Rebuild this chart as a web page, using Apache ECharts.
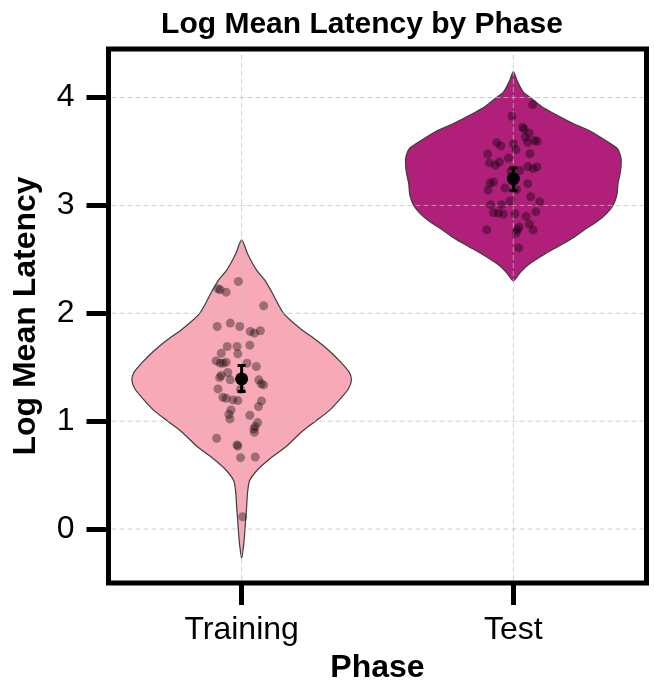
<!DOCTYPE html>
<html><head><meta charset="utf-8">
<script src="https://cdn.jsdelivr.net/npm/echarts@6/dist/echarts.min.js"></script>
<style>html,body{margin:0;padding:0;background:#fff}#c{width:654px;height:685px}</style>
</head><body><div id="c"></div>
<script>
// ---------- data ----------
const categories = ['Training', 'Test'];
const yTicks = [0, 1, 2, 3, 4];

const trainValues = [2.295, 2.227, 2.218, 2.196, 2.070, 1.878, 1.909, 1.878, 1.831, 1.816, 1.838,
  1.692, 1.692, 1.705, 1.630, 1.624, 1.559, 1.538, 1.547, 1.538, 1.538, 1.506, 1.451, 1.423, 1.404,
  1.383, 1.383, 1.346, 1.336, 1.299, 1.296, 1.222, 1.213, 1.197, 1.191, 1.188, 1.135, 1.104, 1.064,
  1.021, 1.055, 0.987, 0.950, 0.928, 0.897, 0.842, 0.780, 0.770, 0.662, 0.668, 0.114];
const trainJitter = [-0.012, -0.087, -0.079, -0.057, 0.081, -0.090, -0.042, -0.007, 0.032, 0.047, 0.069,
  -0.053, -0.017, 0.030, -0.075, -0.014, -0.094, -0.079, -0.057, -0.068, 0.020, 0.054, -0.051, -0.075, -0.081,
  -0.042, 0.063, 0.072, 0.081, -0.087, -0.004, -0.069, -0.057, -0.032, -0.014, 0.073, 0.062, -0.039, -0.047,
  -0.043, 0.030, 0.059, 0.050, 0.045, 0.047, -0.092, -0.017, -0.014, -0.004, 0.050, 0.004];

const testValues = [3.935, 3.827, 3.725, 3.709, 3.669, 3.632, 3.585, 3.601, 3.595, 3.582, 3.551,
  3.570, 3.517, 3.480, 3.477, 3.440, 3.394, 3.403, 3.372, 3.360, 3.341, 3.357, 3.323, 3.316, 3.217,
  3.208, 3.202, 3.143, 3.162, 3.146, 3.081, 3.035, 3.041, 3.007, 3.007, 2.933, 2.930, 2.920, 2.923,
  2.942, 2.899, 2.828, 2.800, 2.775, 2.744, 2.775, 2.772, 2.606];
const testJitter = [0.071, -0.005, 0.034, 0.039, 0.058, 0.044, 0.053, 0.078, 0.088, -0.061, -0.046,
  0.000, 0.010, 0.061, -0.095, -0.018, -0.088, -0.051, -0.066, 0.053, 0.073, 0.087, 0.024, -0.009, -0.073,
  -0.086, 0.053, -0.093, -0.031, 0.012, 0.064, 0.097, -0.012, -0.084, -0.043, -0.073, -0.055, -0.037, 0.006,
  0.083, 0.047, 0.059, 0.021, 0.015, 0.010, -0.098, 0.073, 0.020];

const means = [1.392, 3.248];
const ciLow = [1.275, 3.137];
const ciHigh = [1.516, 3.348];

// violin outlines: value levels and relative density (1 = widest)
const trainViolinY = [2.68, 2.55, 2.4, 2.31, 2.2, 2.0, 1.85, 1.75, 1.65, 1.54, 1.45, 1.38, 1.3, 1.23,
  1.1, 1.0, 0.9, 0.76, 0.65, 0.55, 0.45, 0.35, 0.2, 0.08, -0.05, -0.15, -0.27];
const trainViolinDensity = [0, 0.055, 0.136, 0.209, 0.273, 0.382, 0.545, 0.682, 0.8, 0.909, 0.982, 1, 0.973, 0.918,
  0.8, 0.673, 0.545, 0.4, 0.255, 0.145, 0.073, 0.055, 0.045, 0.036, 0.027, 0.018, 0];
const testViolinY = [4.24, 4.15, 4.05, 4.0, 3.92, 3.84, 3.76, 3.69, 3.6, 3.53, 3.44, 3.35, 3.29, 3.2,
  3.1, 3.0, 2.92, 2.85, 2.78, 2.70, 2.62, 2.54, 2.45, 2.38, 2.30];
const testViolinDensity = [0, 0.037, 0.093, 0.157, 0.259, 0.398, 0.556, 0.713, 0.861, 0.963, 1, 1, 0.991, 0.972,
  0.963, 0.926, 0.861, 0.778, 0.667, 0.556, 0.417, 0.278, 0.139, 0.065, 0];

// ---------- style ----------
const FONT = 'Liberation Sans, Arial, sans-serif';
const violinColors = ['#F8A9B7', '#B0207A'];
const violinHalfWidth = [0.404, 0.396];
const X_MIN = -0.49, X_MAX = 1.49;

const profiles = [
  { y: trainViolinY, d: trainViolinDensity },
  { y: testViolinY, d: testViolinDensity }
];

const chart = echarts.init(document.getElementById('c'), null, { renderer: 'canvas' });

const pointData = [];
trainValues.forEach((v, k) => pointData.push([0 + trainJitter[k], v]));
testValues.forEach((v, k) => pointData.push([1 + testJitter[k], v]));

const option = {
  backgroundColor: '#fff',
  animation: false,
  title: {
    text: 'Log Mean Latency by Phase',
    left: 357, top: 5, textAlign: 'center',
    textStyle: { fontFamily: FONT, fontWeight: 'bold', fontSize: 30, color: '#000' }
  },
  grid: {
    left: 108.5, right: 7.5, top: 49, bottom: 102,
    outerBoundsMode: 'none', containLabel: false,
    show: true, borderColor: '#000', borderWidth: 5, backgroundColor: '#fff'
  },
  xAxis: {
    type: 'value', min: X_MIN, max: X_MAX,
    axisLine: { show: false, onZero: false },
    axisTick: { show: true, customValues: [0, 1], length: 22, lineStyle: { color: '#000', width: 5 } },
    axisLabel: { customValues: [0, 1], formatter: v => categories[Math.round(v)], fontSize: 32,
      color: '#000', margin: 31, fontFamily: FONT },
    splitLine: { show: false },
    name: 'Phase', nameLocation: 'middle', nameGap: 69,
    nameTextStyle: { fontFamily: FONT, fontWeight: 'bold', fontSize: 32, color: '#000' }
  },
  yAxis: {
    type: 'value', min: -0.5, max: 4.45,
    axisLine: { show: false, onZero: false },
    axisTick: { show: true, customValues: yTicks, length: 22, lineStyle: { color: '#000', width: 5 } },
    axisLabel: { customValues: yTicks, fontSize: 32, color: '#000', margin: 34, fontFamily: FONT },
    splitLine: { show: false },
    name: 'Log Mean Latency', nameLocation: 'middle', nameRotate: 90, nameGap: 66,
    nameTextStyle: { fontFamily: FONT, fontWeight: 'bold', fontSize: 32, color: '#000' }
  },
  series: [
    {
      type: 'custom', name: 'violin', z: 2,
      data: [[0, -0.27, 2.68], [1, 2.30, 4.24]],
      encode: { x: 0, y: [1, 2] },
      renderItem: function (params, api) {
        const i = params.dataIndex;
        const p = profiles[i];
        const hw = violinHalfWidth[i];
        const right = p.y.map((v, k) => api.coord([i + p.d[k] * hw, v]));
        const left = p.y.map((v, k) => api.coord([i - p.d[k] * hw, v])).reverse();
        return {
          type: 'polygon',
          shape: { points: right.concat(left.slice(1, -1)), smooth: 0.25 },
          style: { fill: violinColors[i], stroke: '#3d3d3d', lineWidth: 1.2 }
        };
      }
    },
    {
      type: 'custom', name: 'hgrid', z: 3, silent: true,
      data: yTicks.map(v => [X_MIN, v]),
      encode: { x: 0, y: 1 },
      renderItem: function (params, api) {
        const v = api.value(1);
        const a = api.coord([X_MIN, v]), b = api.coord([X_MAX, v]);
        return { type: 'line', shape: { x1: a[0] + 3, y1: a[1], x2: b[0] - 3, y2: b[1] },
          style: { stroke: 'rgba(190,190,190,0.75)', lineWidth: 1, lineDash: [5, 3] } };
      }
    },
    {
      type: 'custom', name: 'vgrid', z: 3, silent: true,
      data: categories.map((c, i) => [i, 0]),
      encode: { x: 0, y: 1 },
      renderItem: function (params, api) {
        const v = api.value(0);
        const a = api.coord([v, -0.5]), b = api.coord([v, 4.45]);
        return { type: 'line', shape: { x1: a[0], y1: a[1] - 3, x2: b[0], y2: b[1] + 3 },
          style: { stroke: 'rgba(190,190,190,0.75)', lineWidth: 1, lineDash: [5, 3] } };
      }
    },
    {
      type: 'scatter', name: 'points', z: 4,
      data: pointData, symbolSize: 9,
      itemStyle: { color: 'rgba(0,0,0,0.45)' }
    },
    {
      type: 'custom', name: 'mean', z: 5,
      data: means.map((m, i) => [i, m, ciLow[i], ciHigh[i]]),
      encode: { x: 0, y: [1, 2, 3] },
      renderItem: function (params, api) {
        const i = api.value(0);
        const c = api.coord([i, api.value(1)]);
        const lo = api.coord([i, api.value(2)]);
        const hi = api.coord([i, api.value(3)]);
        const cap = 4;
        const st = { stroke: '#000', lineWidth: 3 };
        return {
          type: 'group',
          children: [
            { type: 'line', shape: { x1: c[0], y1: lo[1], x2: c[0], y2: hi[1] }, style: st },
            { type: 'line', shape: { x1: c[0] - cap, y1: lo[1], x2: c[0] + cap, y2: lo[1] }, style: st },
            { type: 'line', shape: { x1: c[0] - cap, y1: hi[1], x2: c[0] + cap, y2: hi[1] }, style: st },
            { type: 'circle', shape: { cx: c[0], cy: c[1], r: 6.5 }, style: { fill: '#000' } }
          ]
        };
      }
    }
  ]
};
chart.setOption(option);
</script>
</body></html>
